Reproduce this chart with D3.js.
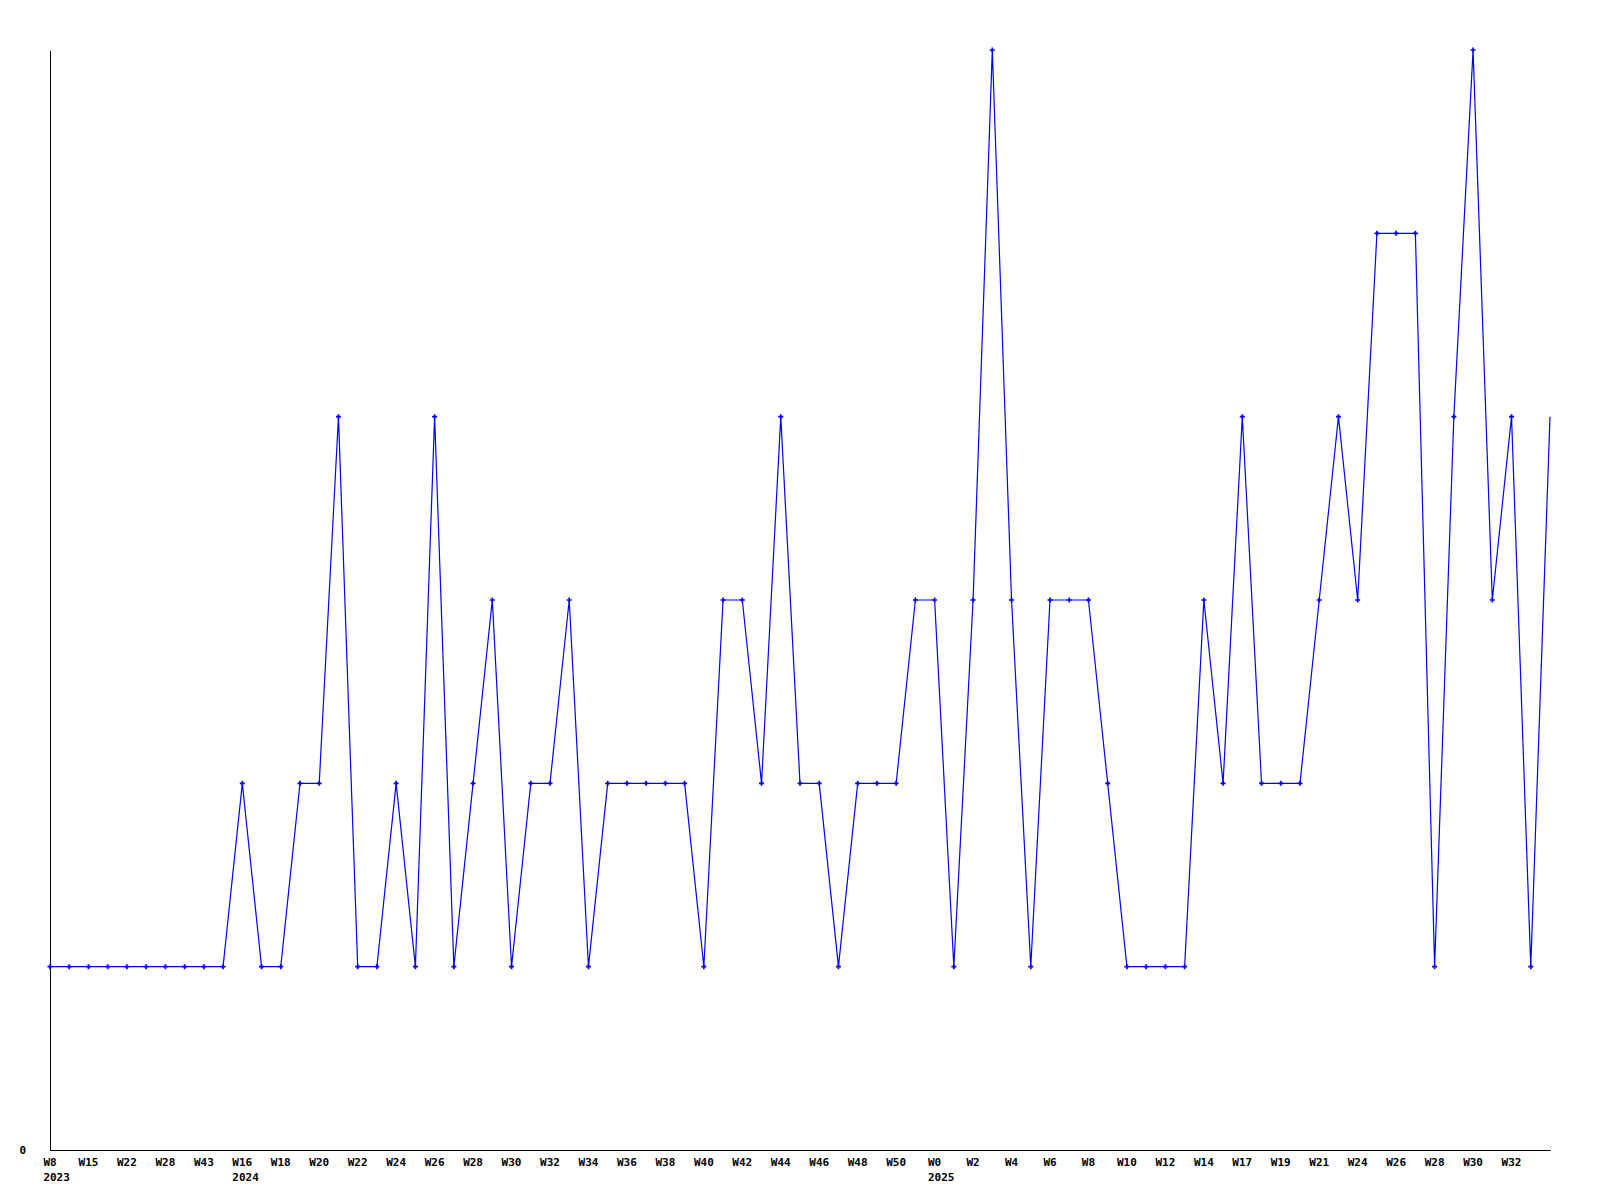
<!DOCTYPE html>
<html>
<head>
<meta charset="utf-8">
<script src="https://cdn.jsdelivr.net/npm/d3@7"></script>
<style>
  html, body { margin: 0; padding: 0; background: #fff; }
  svg { display: block; }
  text { font-family: "DejaVu Sans Mono", "Liberation Mono", monospace; font-weight: bold; font-size: 11px; fill: #000; }
</style>
</head>
<body>
<svg id="chart" width="1600" height="1200"></svg>
<script>
// Weekly values (index-based x axis)
const values = [
  1,1,1,1,1,1,1,1,1,1,
  2,1,1,2,2,4,1,1,2,1,
  4,1,2,3,1,2,2,3,1,2,
  2,2,2,2,1,3,3,2,4,2,
  2,1,2,2,2,3,3,1,3,6,
  3,1,3,3,3,2,1,1,1,1,
  3,2,4,2,2,2,3,4,3,5,
  5,5,1,4,6,3,4,1,4
];
// Tick labels shown at every second point
const tickLabels = [
  "W8","W15","W22","W28","W43","W16","W18","W20","W22","W24",
  "W26","W28","W30","W32","W34","W36","W38","W40","W42","W44",
  "W46","W48","W50","W0","W2","W4","W6","W8","W10","W12",
  "W14","W17","W19","W21","W24","W26","W28","W30","W32"
];
// Year labels: tick label position and year
const yearTickIndex = [0, 5, 23];
const yearLabels = ["2023", "2024", "2025"];
const yTickValues = [0];

const svg = d3.select("#chart");
const mLeft = 50, mRight = 1550, mTop = 50, mBottom = 1150;

const x = d3.scaleLinear().domain([0, values.length - 1]).range([mLeft, mRight]);
const y = d3.scaleLinear().domain([0, 6]).range([mBottom, mTop]);

// axes
const xAxis = d3.axisBottom(x).tickValues([]).tickSize(0).tickSizeOuter(0);
svg.append("g").attr("transform", `translate(0,${mBottom})`).call(xAxis)
  .call(g => g.select(".domain").attr("stroke", "#000").attr("shape-rendering", "crispEdges"));

const yAxis = d3.axisLeft(y).tickValues(yTickValues).tickFormat(d3.format("d"))
  .tickSize(0).tickSizeOuter(0).tickPadding(24);
svg.append("g").attr("transform", `translate(${mLeft},0)`).call(yAxis)
  .call(g => g.attr("font-family", null).attr("font-size", null))
  .call(g => g.select(".domain").attr("stroke", "#000").attr("shape-rendering", "crispEdges"))
  .call(g => g.selectAll("text").attr("dy", "0.35em"));

// x tick labels
const labG = svg.append("g");
const weekTexts = labG.selectAll("text.wk").data(tickLabels).join("text")
  .attr("class", "wk")
  .attr("x", (d, i) => x(i * 2))
  .attr("y", 1166)
  .attr("text-anchor", "middle")
  .text(d => d);

yearTickIndex.forEach((ti, k) => {
  const node = weekTexts.nodes()[ti];
  const w = node.getComputedTextLength();
  labG.append("text")
    .attr("x", x(ti * 2) - w / 2)
    .attr("y", 1181)
    .attr("text-anchor", "start")
    .text(yearLabels[k]);
});

// line
const line = d3.line().x((d, i) => x(i)).y(d => y(d));
svg.append("path").datum(values)
  .attr("d", line)
  .attr("fill", "none")
  .attr("stroke", "#0000ff")
  .attr("stroke-width", 1.2);

// markers (last point has none)
const cross = d3.symbol().type(d3.symbolCross).size(14);
svg.append("g").selectAll("path").data(values.slice(0, values.length - 1)).join("path")
  .attr("transform", (d, i) => `translate(${x(i)},${y(d)})`)
  .attr("d", cross)
  .attr("fill", "#0000ff");
</script>
</body>
</html>
